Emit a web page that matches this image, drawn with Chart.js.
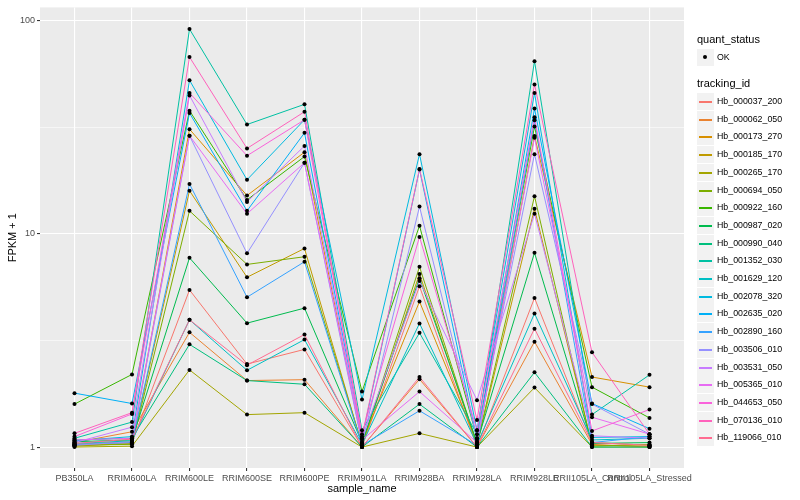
<!DOCTYPE html>
<html>
<head>
<meta charset="utf-8">
<script src="https://cdn.jsdelivr.net/npm/chart.js@4.4.0/dist/chart.umd.min.js"></script>
<style>
  body { margin: 0; background: #fff; font-family: "Liberation Sans", Arial, sans-serif; }
  #wrap { position: relative; width: 800px; height: 500px; }
  #legend { position: absolute; left: 697px; top: 0; color: #000; }
  .ttl { position: absolute; left: 0; font-size: 11px; white-space: nowrap; }
  .key { position: absolute; left: 0; width: 17px; height: 17px; background: #f2f2f2; }
  .lab { position: absolute; left: 20px; font-size: 8.8px; white-space: nowrap; line-height: 17px; }
</style>
</head>
<body>
<div id="wrap">
  <canvas id="chart" width="800" height="500"></canvas>
  <div id="legend"></div>
</div>
<script>
const samples = ["PB350LA", "RRIM600LA", "RRIM600LE", "RRIM600SE", "RRIM600PE", "RRIM901LA",
  "RRIM928BA", "RRIM928LA", "RRIM928LE", "RRII105LA_Control", "RRII105LA_Stressed"];

// FPKM + 1, one value per sample
const hb_000037_200 = [1.02, 1.05, 5.45, 2.45, 2.87, 1.0, 5.67, 1.0, 5.0, 1.05, 1.02];
const hb_000062_050 = [1.05, 1.18, 3.45, 2.05, 2.07, 1.0, 2.08, 1.0, 3.12, 1.03, 1.0];
const hb_000173_270 = [1.03, 1.06, 30.9, 15.1, 24.1, 1.05, 4.81, 1.05, 28.7, 2.13, 1.91];
const hb_000185_170 = [1.01, 1.04, 15.9, 6.25, 8.53, 1.02, 6.48, 1.02, 13.1, 1.02, 1.01];
const hb_000265_170 = [1.0, 1.01, 2.3, 1.42, 1.45, 1.0, 1.16, 1.0, 1.9, 1.0, 1.0];
const hb_000694_050 = [1.02, 1.03, 12.8, 7.18, 7.8, 1.03, 7.0, 1.03, 15.0, 1.01, 1.03];
const hb_000922_160 = [1.59, 2.19, 37.7, 14.4, 23.0, 1.82, 10.9, 1.1, 31.8, 1.91, 1.37];
const hb_000987_020 = [1.06, 1.08, 7.71, 3.81, 4.48, 1.05, 6.18, 1.05, 8.14, 1.04, 1.05];
const hb_000990_040 = [1.08, 1.1, 3.03, 2.05, 1.97, 1.0, 1.59, 1.0, 2.24, 1.0, 1.0];
const hb_001352_030 = [1.1, 1.31, 91, 32.5, 40.4, 1.2, 3.43, 1.15, 64.4, 1.42, 2.18];
const hb_001629_120 = [1.04, 1.07, 3.95, 2.29, 3.19, 1.03, 3.8, 1.03, 4.23, 1.08, 1.1];
const hb_002078_320 = [1.07, 1.12, 52.4, 17.9, 34.2, 1.67, 23.6, 1.2, 45.7, 1.11, 1.12];
const hb_002635_020 = [1.79, 1.6, 36.8, 12.8, 29.7, 1.1, 20.0, 1.08, 38.6, 1.6, 1.22];
const hb_002890_160 = [1.03, 1.05, 17.1, 5.04, 7.39, 1.02, 1.48, 1.02, 34.0, 1.05, 1.12];
const hb_003506_010 = [1.02, 1.06, 28.8, 8.09, 21.5, 1.04, 13.4, 1.1, 23.6, 1.59, 1.15];
const hb_003531_050 = [1.05, 1.24, 44.5, 14.1, 25.8, 1.1, 6.0, 1.66, 12.4, 1.13, 1.1];
const hb_005365_010 = [1.08, 1.1, 28.8, 12.4, 21.5, 1.08, 1.82, 1.05, 28.2, 1.38, 1.15];
const hb_044653_050 = [1.12, 1.43, 45.7, 23.2, 34.2, 1.15, 9.66, 1.2, 35.1, 1.19, 1.5];
const hb_070136_010 = [1.16, 1.45, 67.3, 25.1, 37.3, 1.12, 20.1, 1.34, 50.1, 2.78, 1.15];
const hb_119066_010 = [1.04, 1.09, 3.95, 2.42, 3.37, 1.0, 2.13, 1.0, 3.59, 1.05, 1.02];

const trackingIds = ["Hb_000037_200", "Hb_000062_050", "Hb_000173_270", "Hb_000185_170",
  "Hb_000265_170", "Hb_000694_050", "Hb_000922_160", "Hb_000987_020", "Hb_000990_040",
  "Hb_001352_030", "Hb_001629_120", "Hb_002078_320", "Hb_002635_020", "Hb_002890_160",
  "Hb_003506_010", "Hb_003531_050", "Hb_005365_010", "Hb_044653_050", "Hb_070136_010",
  "Hb_119066_010"];
const seriesValues = [hb_000037_200, hb_000062_050, hb_000173_270, hb_000185_170, hb_000265_170,
  hb_000694_050, hb_000922_160, hb_000987_020, hb_000990_040, hb_001352_030, hb_001629_120,
  hb_002078_320, hb_002635_020, hb_002890_160, hb_003506_010, hb_003531_050, hb_005365_010,
  hb_044653_050, hb_070136_010, hb_119066_010];
const colors = ["#F8766D", "#EA8331", "#D89000", "#C09B00", "#A3A500", "#7CAE00", "#39B600",
  "#00BB4E", "#00BF7D", "#00C1A3", "#00BFC4", "#00BAE0", "#00B0F6", "#35A2FF", "#9590FF",
  "#C77CFF", "#E76BF3", "#FA62DB", "#FF62BC", "#FF6C91"];
const yTicks = [1, 3.1623, 10, 31.623, 100];

const font = "'Liberation Sans', Arial, sans-serif";

const datasets = seriesValues.map((vals, i) => ({
  label: trackingIds[i],
  data: vals.map((v, j) => ({ x: j, y: v })),
  borderColor: colors[i],
  borderWidth: 1,
  pointRadius: 0,
  fill: false,
  tension: 0,
  order: 100 - i,
}));
datasets.push({
  label: "OK",
  data: seriesValues.flatMap(vals => vals.map((v, j) => ({ x: j, y: v }))),
  showLine: false,
  pointRadius: 2,
  pointBackgroundColor: "#000",
  pointBorderWidth: 0,
  order: 0,
});

const panelBg = {
  id: "panelBg",
  beforeDraw(chart) {
    const a = chart.chartArea;
    const ctx = chart.ctx;
    ctx.save();
    ctx.fillStyle = "#EBEBEB";
    ctx.fillRect(a.left, a.top, a.right - a.left, a.bottom - a.top);
    ctx.restore();
  },
};

const isMajor = v => [1, 10, 100].includes(Math.round(v));

new Chart(document.getElementById("chart"), {
  type: "line",
  data: { datasets: datasets },
  options: {
    responsive: false,
    animation: false,
    events: [],
    layout: { padding: { left: 0, top: 5, right: 116, bottom: 0 } },
    plugins: { legend: { display: false }, tooltip: { enabled: false } },
    scales: {
      x: {
        type: "linear",
        min: -0.6,
        max: 10.6,
        afterBuildTicks: s => { s.ticks = samples.map((_, i) => ({ value: i })); },
        afterFit: s => { s.height = 32; },
        border: { display: false },
        grid: { color: "#FFFFFF", lineWidth: 1.1, tickColor: "#333333", tickLength: 3 },
        ticks: {
          autoSkip: false, maxRotation: 0, padding: 2,
          color: "#4D4D4D", font: { family: font, size: 9 },
          callback: v => samples[v],
        },
        title: { display: true, text: "sample_name", color: "#000",
          font: { family: font, size: 11 }, padding: { top: 0, bottom: 4 } },
      },
      y: {
        type: "logarithmic",
        min: 0.798,
        max: 115,
        afterBuildTicks: s => { s.ticks = yTicks.map(v => ({ value: v })); },
        afterFit: s => { s.width = 40; },
        border: { display: false },
        grid: {
          color: "#FFFFFF",
          lineWidth: c => isMajor(c.tick.value) ? 1.1 : 0.55,
          tickColor: c => isMajor(c.tick.value) ? "#333333" : "rgba(0,0,0,0)",
          tickLength: 3,
        },
        ticks: {
          padding: 2, color: "#4D4D4D", font: { family: font, size: 9 },
          callback: v => isMajor(v) ? String(Math.round(v)) : "",
        },
        title: { display: true, text: "FPKM + 1", color: "#000",
          font: { family: font, size: 11 }, padding: { top: 6, bottom: 0 } },
      },
    },
  },
  plugins: [panelBg],
});

// ggplot-style legend
const legend = document.getElementById("legend");
let html = '<div class="ttl" style="top:33px">quant_status</div>';
html += '<div class="key" style="top:49px"><div style="position:absolute;left:6px;top:6px;width:4px;height:4px;border-radius:2px;background:#000"></div></div>';
html += '<div class="lab" style="top:49px">OK</div>';
html += '<div class="ttl" style="top:77px">tracking_id</div>';
trackingIds.forEach((id, i) => {
  const top = Math.round(93 + i * 17.7);
  html += '<div class="key" style="top:' + top + 'px"><div style="position:absolute;left:2px;width:13px;top:8px;height:2px;background:' + colors[i] + '"></div></div>';
  html += '<div class="lab" style="top:' + top + 'px">' + id + '</div>';
});
legend.innerHTML = html;
</script>
</body>
</html>
